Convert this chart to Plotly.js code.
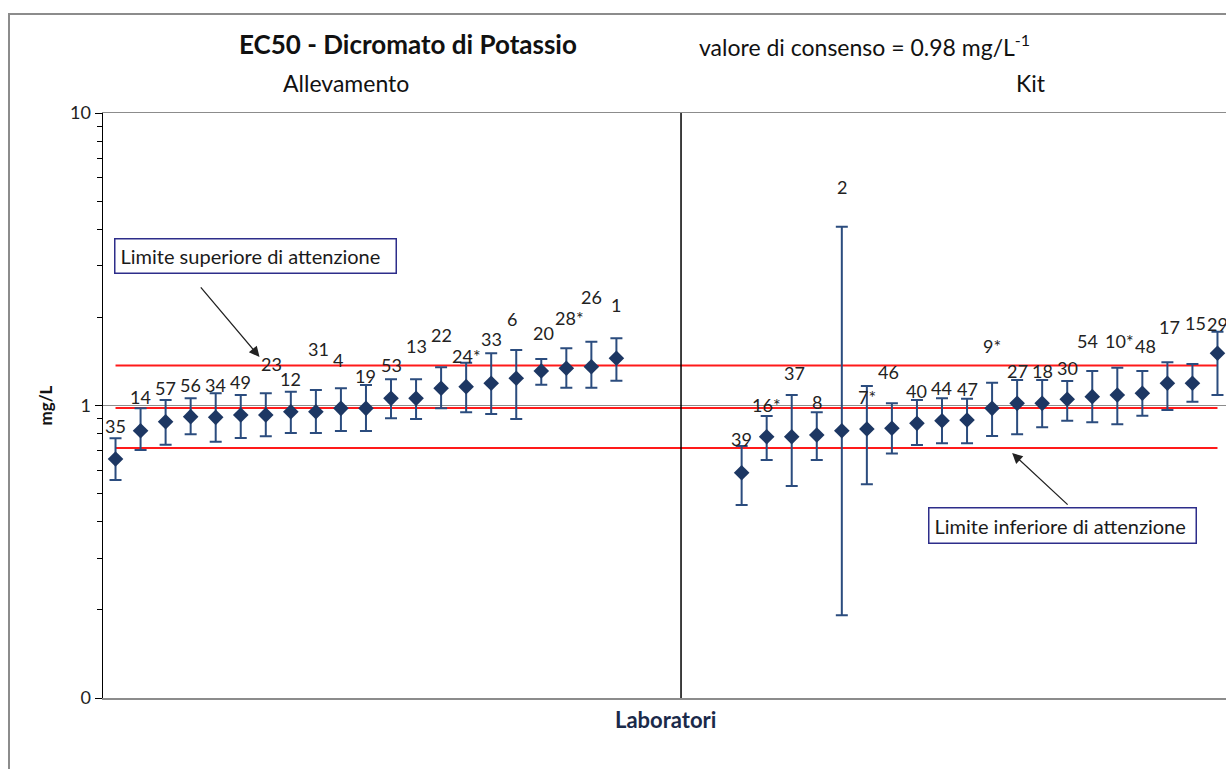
<!DOCTYPE html>
<html>
<head>
<meta charset="utf-8">
<script src="https://cdn.plot.ly/plotly-3.0.1.min.js"></script>
<style>
  html, body { margin: 0; padding: 0; overflow: hidden; background: #ffffff; width: 1226px; height: 769px; }
  #frame { position: absolute; left: 8px; top: 13px; width: 1216px; height: 754px;
           border-left: 2px solid #8c8c8c; border-top: 2px solid #8c8c8c; }
  #chart { position: absolute; left: 0; top: 0; width: 1226px; height: 769px; }
</style>
</head>
<body>
<div id="frame"></div>
<div id="chart"></div>
<script>
// ---------- DATA ----------
// Group "Allevamento"
const labLeft = ['35','14','57','56','34','49','23','12','31','4','19','53','13','22','24*','33','6','20','28*','26','1'];
const valLeft = [0.656,0.820,0.880,0.916,0.911,0.928,0.928,0.952,0.952,0.978,0.978,1.058,1.058,1.145,1.160,1.191,1.239,1.312,1.340,1.357,1.450];
const upLeft  = [0.772,0.978,1.044,1.058,1.101,1.086,1.101,1.115,1.130,1.145,1.175,1.229,1.229,1.351,1.400,1.508,1.548,1.442,1.569,1.652,1.697];
const loLeft  = [0.556,0.705,0.734,0.797,0.752,0.774,0.785,0.805,0.805,0.818,0.818,0.904,0.899,0.978,0.948,0.935,0.899,1.178,1.150,1.150,1.216];

// Group "Kit"
const labRight = ['39','16*','37','8','2','7*','46','40','44','47','9*','27','18','30','54','10*','48','17','15','29'];
const valRight = [0.589,0.782,0.782,0.793,0.820,0.831,0.836,0.869,0.887,0.892,0.978,1.017,1.017,1.050,1.072,1.086,1.101,1.191,1.191,1.508];
const upRight  = [0.727,0.921,1.086,0.948,4.087,1.166,1.017,1.044,1.058,1.055,1.196,1.222,1.222,1.213,1.312,1.347,1.312,1.405,1.386,1.788];
const loRight  = [0.457,0.651,0.531,0.651,0.192,0.538,0.686,0.733,0.743,0.743,0.786,0.797,0.842,0.887,0.876,0.862,0.923,0.965,1.030,1.086];

// Reference values
const consensus = 0.98;
const upperLimit = 1.37;
const lowerLimit = 0.715;

// y-axis tick labels
const yTickVals = [0.1, 1, 10];
const yTickText = ['0', '1', '10'];

// ---------- LAYOUT HELPERS (category slots, label placement) ----------
const startLeft = 1, startRight = 26, lastSlot = 45, dividerSlot = 23.58;
const xLeft = labLeft.map((_, i) => startLeft + i);
const xRight = labRight.map((_, i) => startRight + i);
// label offsets in px relative to the upper error bar end
const gapLeft  = [12,11,12,13,8,13,29,13,41,28,9,14,33,32,7,14,31,26,30,45,33];
const gapRight = [7,11,22,10,40,-11,31,9,10,10,37,9,9,13,30,27,25,35,41,8];
const shiftLeft  = [0,0,0,0,0,0,6,0,3,-3,0,0,0,0,0,0,-4,2,3,0,0];
const shiftRight = [0,0,3,0,0,0,-3,0,0,0,0,0,0,0,-5,2,3,2,3,0];

const FONT = 'Lato, "Liberation Sans", Arial, sans-serif';
const NAVY = '#1d3763';
const BAR = '#2b4c7e';

function pointTrace(x, v, up, lo) {
  return {
    type: 'scatter', mode: 'markers', x: x, y: v,
    marker: { symbol: 'diamond', size: 12, color: NAVY },
    error_y: {
      type: 'data', symmetric: false,
      array: up.map((u, i) => u - v[i]),
      arrayminus: lo.map((l, i) => v[i] - l),
      color: BAR, thickness: 2, width: 6
    },
    hoverinfo: 'skip', showlegend: false
  };
}
function hLine(val) {
  return {
    type: 'scatter', mode: 'lines', x: [startLeft, lastSlot], y: [val, val],
    line: { color: '#ff1a1a', width: 2 }, hoverinfo: 'skip', showlegend: false
  };
}

const traces = [
  hLine(upperLimit), hLine(consensus), hLine(lowerLimit),
  pointTrace(xLeft, valLeft, upLeft, loLeft),
  pointTrace(xRight, valRight, upRight, loRight)
];

const annotations = [];
function addLabels(xs, labs, ups, gaps, shifts) {
  labs.forEach((t, i) => {
    annotations.push({
      x: xs[i], y: Math.log10(ups[i]), xref: 'x', yref: 'y',
      text: t, showarrow: false, yanchor: 'middle', xanchor: 'center',
      yshift: gaps[i], xshift: shifts[i],
      font: { family: FONT, size: 18, color: '#222' }
    });
  });
}
addLabels(xLeft, labLeft, upLeft, gapLeft, shiftLeft);
addLabels(xRight, labRight, upRight, gapRight, shiftRight);

// titles / headers
annotations.push(
  { xref: 'paper', yref: 'paper', x: 0.2716, y: 1.118, text: '<b>EC50 - Dicromato di Potassio</b>',
    showarrow: false, xanchor: 'center', yanchor: 'middle', font: { family: FONT, size: 26, color: '#111' } },
  { xref: 'paper', yref: 'paper', x: 0.5289, y: 1.116, text: 'valore di consenso = 0.98 mg/L<sup>-1</sup>',
    showarrow: false, xanchor: 'left', yanchor: 'middle', font: { family: FONT, size: 23, color: '#111' } },
  { xref: 'paper', yref: 'paper', x: 0.2164, y: 1.0513, text: 'Allevamento',
    showarrow: false, xanchor: 'center', yanchor: 'middle', font: { family: FONT, size: 23, color: '#111' } },
  { xref: 'paper', yref: 'paper', x: 0.8264, y: 1.0513, text: 'Kit',
    showarrow: false, xanchor: 'center', yanchor: 'middle', font: { family: FONT, size: 23, color: '#111' } },
  { xref: 'paper', yref: 'paper', x: -0.0516, y: 0.5, text: '<b>mg/L</b>', textangle: -90,
    showarrow: false, xanchor: 'center', yanchor: 'middle', font: { family: FONT, size: 17, color: '#111' } },
  { xref: 'paper', yref: 'paper', x: 0.5013, y: -0.036, text: '<b>Laboratori</b>',
    showarrow: false, xanchor: 'center', yanchor: 'middle', font: { family: FONT, size: 22, color: '#1a2a4a' } }
);

// limit boxes and arrows
annotations.push(
  { xref: 'x', yref: 'y', x: 6.59, y: 0.512, text: 'Limite superiore di attenzione',
    showarrow: false, width: 270, height: 23, align: 'left', borderpad: 5,
    bordercolor: '#2d2d8a', borderwidth: 1.5, bgcolor: '#ffffff',
    font: { family: FONT, size: 20, color: '#1a1a1a' } },
  { xref: 'x', yref: 'y', x: 6.75, y: 0.166, text: '', showarrow: true,
    ax: -60, ay: -71, arrowhead: 2, arrowsize: 1.6, arrowwidth: 1.3, arrowcolor: '#222', standoff: 0 },
  { xref: 'x', yref: 'y', x: 38.83, y: -0.4096, text: 'Limite inferiore di attenzione',
    showarrow: false, width: 256, height: 24, align: 'left', borderpad: 5,
    bordercolor: '#2d2d8a', borderwidth: 1.5, bgcolor: '#ffffff',
    font: { family: FONT, size: 20, color: '#1a1a1a' } },
  { xref: 'x', yref: 'y', x: 36.8, y: -0.1624, text: '', showarrow: true,
    ax: 57, ay: 53, arrowhead: 2, arrowsize: 1.6, arrowwidth: 1.3, arrowcolor: '#222', standoff: 0 }
);

const layout = {
  width: 1226, height: 769,
  margin: { l: 103, r: 0, t: 113, b: 71 },
  paper_bgcolor: 'rgba(0,0,0,0)', plot_bgcolor: 'rgba(0,0,0,0)',
  showlegend: false,
  xaxis: {
    range: [0.5, 45.34], showticklabels: false, ticks: '', showgrid: false, zeroline: false,
    showline: true, mirror: true, linecolor: '#8c8c8c', linewidth: 1.5
  },
  yaxis: {
    type: 'log', range: [-1, 1],
    tickmode: 'array', tickvals: yTickVals, ticktext: yTickText,
    ticks: 'outside', ticklen: 7, tickcolor: '#000',
    showline: true, linecolor: '#000', linewidth: 1.5,
    showgrid: true, gridcolor: '#8c8c8c', gridwidth: 1.5, zeroline: false,
    minor: { ticks: 'outside', ticklen: 5, tickcolor: '#000', dtick: 'D1', showgrid: false },
    tickfont: { family: FONT, size: 18, color: '#222' }
  },
  shapes: [
    { type: 'line', xref: 'x', yref: 'paper', x0: dividerSlot, x1: dividerSlot, y0: 0, y1: 1,
      line: { color: '#000', width: 1.5 } }
  ],
  annotations: annotations
};

Plotly.newPlot('chart', traces, layout, { displayModeBar: false, staticPlot: true });
</script>
</body>
</html>
